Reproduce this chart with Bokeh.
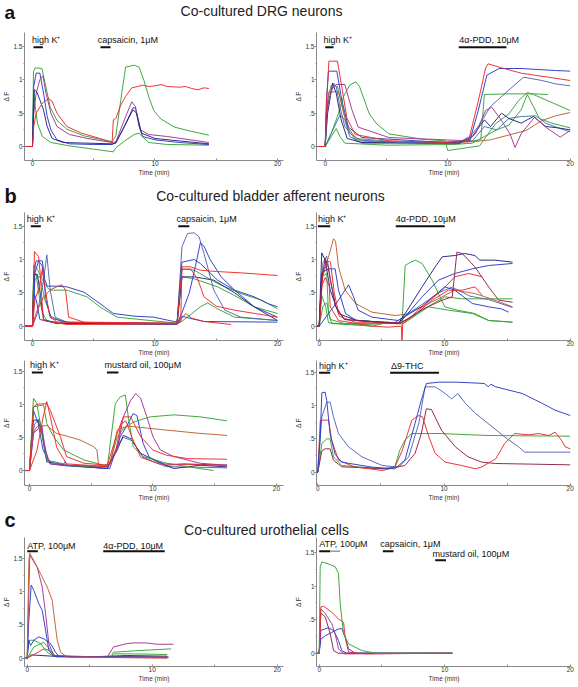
from bokeh.plotting import figure
from bokeh.layouts import column, row
from bokeh.models import FixedTicker, Range1d
from bokeh.core.properties import value
from bokeh.embed import file_html
from bokeh.resources import INLINE

FONT = "Liberation Sans"
COL = {
    "red": "#ee2a2a", "green": "#36a336", "blue": "#2a3cc8", "navy": "#23237e",
    "slate": "#5565b5", "magenta": "#a0358f", "maroon": "#8c2244",
    "brown": "#bd6030", "teal": "#3a78a8",
}

# ---------------- section titles ----------------
section_letters = ["a", "b", "c"]
section_titles = ["Co-cultured DRG neurons", "Co-cultured bladder afferent neurons",
                  "Co-cultured urothelial cells"]

# ---------------- panel a, left (capsaicin) ----------------
a1_stim_labels = ["high K\u207a", "capsaicin, 1\u03bcM"]
a1_stim_start = [0.08, 5.55]
a1_stim_end = [0.85, 6.37]
a1_label_t = [-0.05, 5.33]
a1_green_big = [(-0.8,0),(0,0),(0.08,1.12),(0.22,1.18),(0.77,1.17),(1.04,0.94),(1.45,0.59),(2.0,0.39),(2.8,0.26),(4.2,0.16),(5.5,0.11),(6.5,0.075),(6.8,0.16),(7.2,0.69),(7.6,1.19),(8.3,1.22),(8.7,1.19),(9.1,0.99),(9.5,0.74),(9.9,0.54),(10.5,0.41),(11.6,0.29),(12.9,0.23),(14.4,0.17)]
a1_green_low = [(-0.8,0),(0,0),(0.1,0.78),(0.4,0.35),(0.8,0.15),(1.5,0.06),(3,0.01),(5,-0.04),(6.6,-0.08),(6.8,-0.02),(7.5,0.08),(8.3,0.18),(8.7,0.2),(9.0,0.14),(9.5,0.06),(11,0.03),(14.4,0.02)]
a1_blue = [(-0.8,0),(0,0),(0.1,0.9),(0.3,1.1),(0.6,1.1),(0.9,0.8),(1.2,0.45),(1.5,0.25),(2,0.1),(3,0.04),(5,0.03),(6.5,0.03),(6.8,0.06),(7.5,0.3),(8.2,0.58),(8.4,0.58),(8.7,0.3),(9.0,0.15),(10,0.1),(12,0.06),(14.4,0.03)]
a1_magenta = [(-0.8,0),(0,0),(0.1,0.5),(0.3,0.8),(0.6,1.0),(0.85,1.06),(1.1,0.8),(1.5,0.5),(2,0.3),(3,0.18),(4.5,0.12),(6.5,0.06),(6.8,0.07),(7.5,0.4),(8.1,0.67),(8.4,0.6),(8.8,0.25),(9.5,0.18),(11,0.15),(14.4,0.06)]
a1_navy = [(-0.8,0),(0,0),(0.15,0.85),(0.35,0.82),(0.6,0.7),(0.9,0.55),(1.2,0.3),(1.6,0.12),(2.5,0.06),(6.5,0.04),(6.8,0.05),(7.5,0.3),(8.2,0.55),(8.5,0.5),(8.9,0.2),(10,0.12),(14.4,0.04)]
a1_red = [(-0.8,0),(0,0),(0.1,0.3),(0.3,0.5),(0.8,0.65),(1.3,0.72),(1.6,0.68),(2,0.5),(2.8,0.3),(4,0.2),(5.5,0.12),(6.5,0.06),(6.6,0.4),(6.8,0.42),(7.2,0.62),(7.6,0.75),(8.1,0.88),(8.6,0.9),(9,0.92),(9.5,0.9),(10,0.91),(10.5,0.93),(11,0.9),(12,0.89),(12.5,0.9),(13,0.87),(13.5,0.85),(14,0.88),(14.4,0.87)]
a1_traces = [("green", a1_green_big), ("green", a1_green_low), ("blue", a1_blue),
             ("magenta", a1_magenta), ("navy", a1_navy), ("red", a1_red)]

# ---------------- panel a, right (4a-PDD) ----------------
a2_stim_labels = ["high K\u207a", "4\u03b1-PDD, 10\u03bcM"]
a2_stim_start = [0.0, 10.9]
a2_stim_end = [0.68, 14.8]
a2_label_t = [-0.14, 10.94]
a2_red = [(-0.8,0),(0,0),(0.1,0.6),(0.3,1.28),(1.0,1.28),(1.36,0.89),(1.77,0.43),(2.45,0.18),(5.2,0.085),(9.8,0.06),(11.7,0.085),(12.5,0.68),(13.1,1.18),(13.3,1.24),(14.4,1.18),(16,1.1),(18.2,1.04),(20,0.99)]
a2_blue = [(-0.8,0),(0,0),(0.1,0.7),(0.27,1.13),(0.95,1.13),(1.36,0.69),(1.9,0.29),(3.0,0.135),(9.8,0.06),(11.8,0.085),(12.5,0.54),(13.2,1.07),(14.2,1.17),(16,1.17),(18.8,1.14),(20,1.13)]
a2_slate = [(-0.8,0),(0,0),(0.15,0.6),(0.7,0.95),(0.9,0.9),(1.2,0.6),(1.6,0.3),(2.5,0.1),(6,0.06),(11,0.07),(11.8,0.15),(12.5,0.3),(13.5,0.6),(14.7,0.8),(16.2,1.04),(17.7,0.99),(18.8,0.94),(20,0.91)]
a2_green_flat = [(-0.8,0),(0,0),(0.2,0.7),(0.5,0.92),(1.0,0.9),(1.4,0.6),(1.8,0.3),(2.5,0.12),(6,0.07),(11,0.06),(12.7,0.1),(13.0,0.78),(15,0.79),(17,0.79),(18.2,0.78)]
a2_green_late = [(-0.8,0),(0,0),(0.5,0.2),(1.0,0.45),(1.5,0.75),(2.0,0.92),(2.5,0.97),(2.8,0.9),(3.6,0.49),(4.2,0.34),(5.2,0.19),(7.9,0.11),(9.8,0.085),(10.0,-0.06),(11.7,-0.015),(12.6,0.01),(13.9,0.34),(15,0.49),(15.8,0.69),(16.5,0.81),(17.0,0.78),(18.0,0.7),(19,0.62),(20,0.54)]
a2_green_small = [(-0.8,0),(0,0),(0.5,0.15),(0.9,0.27),(1.2,0.15),(1.6,0.05),(5,0.02),(10.5,0.03),(12,0.05),(13,0.15),(14,0.25),(15,0.32),(16,0.55),(16.5,0.78),(17,0.6),(17.5,0.42),(18.5,0.35),(20,0.28)]
a2_magenta = [(-0.8,0),(0,0),(0.1,0.5),(0.5,0.85),(0.9,0.93),(1.6,0.93),(2.2,0.54),(2.7,0.29),(5.2,0.135),(11.7,0.085),(12.3,0.2),(13.1,0.54),(13.6,0.59),(14.4,0.39),(15.1,0.185),(15.5,-0.015),(16,0.19),(17.1,0.44),(18,0.29),(18.8,0.19),(19.2,0.14),(20,0.24)]
a2_brown = [(-0.8,0),(0,0),(0.1,0.5),(0.3,0.82),(1.1,0.82),(1.5,0.5),(2,0.2),(3,0.08),(8,0.05),(12,0.07),(13.5,0.1),(16.4,0.24),(17.7,0.39),(18.8,0.46),(20,0.51)]
a2_navy = [(-0.8,0),(0,0),(0.2,0.5),(0.6,0.95),(0.9,0.8),(1.3,0.4),(1.8,0.12),(3,0.06),(11,0.05),(12.0,0.15),(13.0,0.4),(13.5,0.3),(14.4,0.5),(15,0.42),(16,0.35),(17,0.45),(18,0.3),(19,0.28),(20,0.25)]
a2_teal = [(-0.8,0),(0,0),(0.5,0.2),(1.2,0.47),(1.6,0.4),(2,0.15),(3,0.05),(11,0.05),(11.5,0.12),(12,0.08),(13,0.3),(14,0.25),(15,0.42),(16,0.45),(17.2,0.46),(18,0.35),(19,0.28),(20,0.22)]
a2_traces = [("green", a2_green_flat), ("green", a2_green_late), ("green", a2_green_small),
             ("brown", a2_brown), ("teal", a2_teal), ("navy", a2_navy), ("slate", a2_slate),
             ("magenta", a2_magenta), ("blue", a2_blue), ("red", a2_red)]

# ---------------- panel b, top left (capsaicin) ----------------
b1_stim_labels = ["high K\u207a", "capsaicin, 1\u03bcM"]
b1_stim_start = [-0.14, 11.9]
b1_stim_end = [0.68, 12.8]
b1_label_t = [-0.46, 11.75]
b1_red_fast = [(-0.8,0),(0,0),(0.16,1.12),(0.5,1.04),(0.63,0.79),(0.8,0.3),(0.9,0.085),(2.8,0.025),(11.8,0.035),(12.1,0.09),(12.5,0.19),(13,0.12),(14,0.07),(16.2,0.025)]
b1_red_slow = [(-0.8,0),(0,0),(0.3,0.2),(0.9,0.44),(1.5,0.55),(2.1,0.6),(2.4,0.62),(2.7,0.54),(2.95,0.135),(4.2,0.06),(11.8,0.045),(12.1,0.06),(12.2,0.89),(12.9,0.89),(13.7,0.84),(15,0.82),(17,0.8),(20,0.76)]
b1_red3 = [(-0.8,0),(0,0),(0.2,0.4),(0.5,0.55),(0.8,0.85),(1.0,0.6),(1.4,0.15),(2,0.06),(11.8,0.04),(12.2,0.85),(12.9,0.86),(13.5,0.7),(14,0.44),(15,0.3),(16.5,0.24),(20,0.135)]
b1_slate_tall = [(-0.8,0),(0,0),(0.4,0.19),(0.9,0.69),(1.17,1.07),(1.45,0.54),(1.85,0.135),(2.8,0.06),(11.8,0.035),(12.2,1.19),(12.65,1.39),(13.2,1.4),(13.6,1.34),(14,1.09),(14.8,0.54),(15.7,0.24),(17,0.135),(20,0.085)]
b1_blue_late = [(-0.8,0),(0,0),(0.2,0.8),(0.5,0.98),(0.8,0.9),(1.1,0.4),(1.5,0.12),(3,0.05),(11.8,0.04),(12.2,0.2),(12.8,0.5),(13.3,0.9),(13.7,1.25),(14,1.2),(14.5,1.0),(15.4,0.74),(16.5,0.54),(18.1,0.29),(20,0.135)]
b1_blue_decay = [(-0.8,0),(0,0),(0.2,0.9),(0.3,0.98),(0.8,0.98),(1.0,0.7),(1.2,0.6),(2,0.6),(2.8,0.59),(4.2,0.51),(5.5,0.34),(6.6,0.19),(8.3,0.15),(9.9,0.135),(11.8,0.06),(12.2,0.96),(13.2,1.0),(13.7,0.94),(15.1,0.69),(16.5,0.54),(18.1,0.44),(19.2,0.34),(20,0.29)]
b1_green_decay = [(-0.8,0),(0,0),(0.1,0.92),(0.4,0.85),(0.8,0.7),(1.2,0.58),(1.45,0.54),(2.8,0.54),(4.45,0.44),(5.5,0.29),(6.9,0.135),(9.6,0.085),(11.8,0.045),(12.2,0.86),(13.2,0.84),(15.1,0.64),(17,0.49),(18.7,0.39),(20,0.26)]
b1_green_small = [(-0.8,0),(0,0),(0.1,0.8),(0.3,0.78),(0.5,0.5),(0.8,0.2),(1.2,0.08),(3,0.04),(11.8,0.03),(12.4,0.1),(13.7,0.29),(14.3,0.35),(15.1,0.26),(16.5,0.135),(20,0.085)]
b1_green3 = [(-0.8,0),(0,0),(0.2,0.7),(0.6,0.75),(1.0,0.4),(1.5,0.15),(2.5,0.06),(11.8,0.04),(12.2,0.74),(13.2,0.71),(15.1,0.59),(16.5,0.46),(18.1,0.29),(20,0.19)]
b1_navy = [(-0.8,0),(0,0),(0.1,0.77),(0.4,0.78),(0.7,0.4),(0.9,0.1),(2,0.04),(11.8,0.03),(12.2,0.74),(13.2,0.74),(14.8,0.69),(16.5,0.5),(18,0.3),(20,0.085)]
b1_blue_small = [(-0.8,0),(0,0),(0.15,0.48),(0.3,0.4),(0.6,0.1),(2,0.04),(11.8,0.03),(12.2,0.15),(12.8,0.12),(14,0.07),(20,0.06)]
b1_traces = [("green", b1_green_decay), ("green", b1_green_small), ("green", b1_green3),
             ("navy", b1_navy), ("blue", b1_blue_small), ("slate", b1_slate_tall),
             ("blue", b1_blue_late), ("blue", b1_blue_decay), ("red", b1_red_fast),
             ("red", b1_red_slow), ("red", b1_red3)]

# ---------------- panel b, top right (4a-PDD) ----------------
b2_stim_labels = ["high K\u207a", "4\u03b1-PDD, 10\u03bcM"]
b2_stim_start = [-0.1, 6.1]
b2_stim_end = [0.88, 10.0]
b2_label_t = [-0.1, 6.1]
b2_brown = [(-0.3,0),(0,0),(0.2,0.69),(0.74,1.04),(1.14,1.31),(1.3,1.28),(1.54,0.89),(2.07,0.54),(2.9,0.34),(4.2,0.21),(6.05,0.16),(6.9,0.18),(8.2,0.29),(9.8,0.44),(10.8,0.54),(12.4,0.49),(14.0,0.39),(15.4,0.29)]
b2_green_early = [(-0.3,0),(0,0),(0.2,0.74),(0.6,0.79),(0.74,0.19),(1.0,0.04),(4.2,0.0),(5.5,0.06),(6.6,0.03),(6.85,0.91),(7.1,0.94),(7.65,0.99),(8.2,0.94),(9.0,0.69),(9.5,0.49),(10.0,0.29),(11.0,0.24),(12.4,0.19),(13.5,0.085),(15.4,0.06)]
b2_navy = [(-0.3,0),(0,0),(0.2,1.1),(0.48,0.99),(0.88,0.54),(1.54,0.19),(2.9,0.09),(6.3,0.035),(6.85,0.19),(8.2,0.59),(9.24,0.89),(9.8,1.04),(10.8,1.06),(11.6,1.09),(12.4,1.06),(12.8,0.99),(14,0.99),(15.4,0.96)]
b2_blue = [(-0.3,0),(0,0),(0.2,0.8),(0.74,0.86),(1.27,0.86),(1.54,0.54),(2.1,0.19),(3,0.08),(6.3,0.05),(6.6,0.09),(8.2,0.44),(9.5,0.69),(10.8,0.79),(12.2,0.86),(13.5,0.91),(15.4,0.94)]
b2_maroon = [(-0.3,0),(0,0),(0.2,0.7),(0.48,1.01),(0.7,0.9),(0.9,0.68),(1.3,0.3),(2,0.1),(6.3,0.04),(7,0.1),(8.2,0.25),(9.8,0.39),(10.6,0.44),(10.97,1.11),(11.4,1.09),(12.4,0.89),(13.5,0.59),(14.3,0.39),(15.4,0.36)]
b2_red = [(-0.3,0),(0,0),(0.2,0.6),(0.48,0.73),(0.8,0.6),(0.88,0.29),(1.54,0.085),(4.2,0.0),(5.5,-0.015),(6.55,0.0),(6.6,-0.3),(6.65,0.03),(8.2,0.29),(9.8,0.54),(10.8,0.74),(11.9,0.79),(13,0.74)]
b2_red2 = [(-0.3,0),(0,0),(0.3,0.8),(0.6,0.98),(0.9,0.96),(1.2,0.5),(1.6,0.15),(3,0.05),(6.5,0.05),(7.5,0.15),(9,0.39),(10.3,0.54),(11.4,0.54),(12.4,0.59),(13,0.46)]
b2_purpleblue = [(-0.3,0),(0,0),(0.74,0.19),(1.54,0.39),(2.34,0.62),(2.74,0.44),(3.1,0.24),(4.2,0.135),(6.3,0.085),(8.2,0.3),(10.0,0.59),(10.8,0.54),(12.2,0.34),(13.5,0.29),(14.5,0.26),(15.1,0.21)]
b2_green_flat = [(-0.3,0),(0,0),(0.2,0.46),(0.5,0.3),(0.74,0.05),(3,0.02),(6.5,0.05),(8.2,0.24),(10.0,0.44),(11.4,0.41),(15.4,0.41)]
b2_green_low = [(-0.3,0),(0,0),(0.3,0.3),(0.6,0.35),(0.9,0.1),(2,0.04),(6.8,0.05),(8.7,0.29),(10.3,0.24),(12.2,0.19),(13.5,0.085),(15.4,0.06)]
b2_slate = [(-0.3,0),(0,0),(0.3,0.95),(0.6,1.05),(0.9,0.7),(1.3,0.3),(2,0.1),(6,0.05),(8,0.3),(9.5,0.5),(10.5,0.58),(11,0.55),(12,0.45),(13.5,0.4),(15.4,0.28)]
b2_traces = [("green", b2_green_low), ("green", b2_green_flat), ("green", b2_green_early),
             ("brown", b2_brown), ("slate", b2_slate), ("blue", b2_purpleblue), ("blue", b2_blue),
             ("navy", b2_navy), ("red", b2_red2), ("red", b2_red), ("maroon", b2_maroon)]

# ---------------- panel b, bottom left (mustard oil) ----------------
b3_stim_labels = ["high K\u207a", "mustard oil, 100\u03bcM"]
b3_stim_start = [0.19, 6.27]
b3_stim_end = [1.08, 7.2]
b3_label_t = [0.05, 6.08]
b3_green_sust = [(-0.8,0),(0,0),(0.32,0.96),(1.14,0.99),(1.4,0.71),(1.95,0.51),(2.76,0.31),(4.4,0.16),(6.0,0.08),(6.5,0.1),(7.1,0.51),(7.6,0.63),(8.4,0.73),(9.8,0.81),(11.7,0.84),(13.8,0.81),(16,0.75)]
b3_brown = [(-0.8,0),(0,0),(0.3,0.56),(0.6,0.66),(1.4,0.68),(2.2,0.56),(3.0,0.52),(4.1,0.46),(5.2,0.36),(5.46,0.31),(5.6,0.08),(6.5,0.08),(7.1,0.61),(7.9,0.67),(9.0,0.65),(11.1,0.61),(13.8,0.56),(16,0.53)]
b3_red1 = [(-0.8,0),(0,0),(0.32,0.96),(0.6,1.0),(1.4,1.01),(1.68,0.91),(2.5,0.51),(3.0,0.21),(4.4,0.11),(6.3,0.08),(7.1,0.56),(7.6,0.81),(8.2,0.81),(9.0,0.51),(10.0,0.31),(11.1,0.23),(12.8,0.18),(16,0.17)]
b3_red2 = [(-0.8,0),(0,0),(0.6,0.3),(1.1,0.8),(1.4,1.04),(1.7,0.8),(2.2,0.35),(3,0.1),(6.3,0.06),(7,0.3),(7.4,0.7),(7.8,0.75),(8.3,0.5),(9,0.2),(10.5,0.1),(16,0.08)]
b3_purple = [(-0.8,0),(0,0),(0.32,0.56),(1.0,0.68),(1.27,0.31),(1.68,0.1),(3,0.08),(6.3,0.06),(7.1,0.31),(7.6,0.81),(8.2,1.06),(8.6,1.16),(9.0,1.09),(9.5,0.81),(10.0,0.51),(10.6,0.31),(11.7,0.21),(13.8,0.11),(16,0.08)]
b3_green_big2 = [(-0.8,0),(0,0),(0.32,1.09),(0.6,1.01),(1.0,0.56),(1.4,0.16),(2.5,0.08),(6.3,0.05),(6.95,1.01),(7.35,1.11),(7.76,1.14),(8.0,0.81),(8.4,0.36),(9.2,0.21),(11.1,0.11),(13.8,0.03),(14.9,0.0)]
b3_blue = [(-0.8,0),(0,0),(0.32,0.91),(0.7,0.71),(1.1,0.31),(1.68,0.1),(3,0.07),(6.5,0.03),(7.35,0.51),(7.9,0.68),(8.4,0.86),(8.7,0.83),(9.2,0.41),(9.7,0.2),(11.1,0.08),(12.5,0.1),(16,0.08)]
b3_navy = [(-0.8,0),(0,0),(0.32,0.76),(0.7,0.76),(1.0,0.56),(1.4,0.13),(3,0.08),(6.3,0.03),(7.1,0.31),(7.6,0.53),(8.2,0.48),(9.0,0.26),(10.6,0.11),(11.7,0.03),(13.8,0.08),(16,0.055)]
b3_slate = [(-0.8,0),(0,0),(0.4,0.7),(0.8,0.78),(1.1,0.5),(1.5,0.15),(2.8,0.1),(2.9,0.14),(3,0.08),(6.3,0.03),(7.2,0.4),(7.6,0.5),(8.3,0.45),(9.2,0.2),(11,0.06),(16,0.04)]
b3_traces = [("slate", b3_slate), ("navy", b3_navy), ("blue", b3_blue), ("green", b3_green_big2),
             ("green", b3_green_sust), ("brown", b3_brown), ("magenta", b3_purple),
             ("red", b3_red2), ("red", b3_red1)]

# ---------------- panel b, bottom right (delta9-THC) ----------------
b4_stim_labels = ["high K\u207a", "\u03949-THC"]
b4_stim_start = [0.1, 5.73]
b4_stim_end = [0.98, 9.6]
b4_label_t = [0.1, 5.8]
b4_blue = [(-0.3,0),(0,0),(0.2,0.57),(0.32,1.19),(0.58,1.2),(0.71,1.07),(0.98,0.57),(1.37,0.27),(1.9,0.15),(4.3,0.075),(6.1,0.05),(6.9,0.18),(7.7,0.73),(8.2,1.08),(8.6,1.33),(9.6,1.35),(10.9,1.35),(12.2,1.34),(13.2,1.33),(13.5,1.28),(13.7,1.32),(14.1,1.28),(16.2,1.18),(17.8,1.03),(18.8,0.93),(20,0.85)]
b4_slate = [(-0.3,0),(0,0),(0.32,0.83),(0.71,1.05),(0.98,1.05),(1.24,0.83),(1.64,0.58),(2.43,0.38),(3.5,0.23),(5.1,0.1),(6.4,0.075),(7.2,0.23),(8.0,0.73),(8.5,1.28),(9.3,1.28),(10.1,1.18),(10.6,1.1),(11.1,1.18),(11.7,1.03),(12.5,0.88),(13.5,0.73),(14.8,0.53),(15.9,0.38),(16.4,0.3),(20,0.3)]
b4_red = [(-0.3,0),(0,0),(0.2,0.78),(0.85,0.78),(1.1,0.48),(1.64,0.18),(2.9,0.08),(5.1,0.025),(6.1,0.07),(6.7,0.33),(7.45,0.78),(8.0,0.85),(8.3,0.83),(8.8,0.53),(9.3,0.28),(10.1,0.15),(11.4,0.1),(12.5,0.05),(13.0,0.08),(14.1,0.2),(14.8,0.43),(15.6,0.58),(16.7,0.56),(17.5,0.58),(18.3,0.55),(18.8,0.6),(19.3,0.48),(19.6,0.38),(20,0.35)]
b4_maroon = [(-0.3,0),(0,0),(0.32,0.32),(0.58,0.35),(0.98,0.35),(1.24,0.18),(1.9,0.08),(5.5,0.05),(6.9,0.1),(7.7,0.28),(8.2,0.58),(8.6,0.95),(9.0,0.94),(9.8,0.63),(10.9,0.38),(11.9,0.23),(13.0,0.15),(14.1,0.13),(20,0.11)]
b4_green = [(-0.3,0),(0,0),(0.32,0.43),(0.71,0.5),(0.98,0.5),(1.24,0.23),(1.9,0.1),(5.1,0.05),(6.1,0.08),(6.5,0.33),(6.9,0.48),(7.45,0.58),(9.6,0.58),(13.5,0.55),(20,0.54)]
b4_traces = [("green", b4_green), ("maroon", b4_maroon), ("red", b4_red),
             ("slate", b4_slate), ("blue", b4_blue)]

# ---------------- panel c, left (ATP, 4a-PDD) ----------------
c1_stim_labels = ["ATP, 100\u03bcM", "4\u03b1-PDD, 10\u03bcM"]
c1_stim_start = [0.0, 6.08]
c1_stim_end = [0.85, 11.0]
c1_label_t = [0.0, 6.08]
c1_brown = [(-0.2,0),(0,0),(0.13,1.47),(0.21,1.58),(0.53,1.47),(1.07,1.27),(1.6,1.07),(2.0,0.87),(2.13,0.67),(2.4,0.27),(2.67,0.09),(3.2,0.015),(11.2,0.015)]
c1_magenta = [(-0.2,0),(0,0),(0.21,1.55),(0.8,1.37),(1.2,1.07),(1.47,0.67),(1.73,0.22),(2.13,0.04),(6.4,0.015),(6.9,0.17),(8.0,0.22),(8.5,0.23),(9.5,0.23),(10.4,0.21),(11.7,0.21)]
c1_blue = [(-0.2,0),(0,0),(0.13,0.57),(0.32,1.1),(0.53,1.02),(0.93,0.82),(1.2,0.72),(1.47,0.42),(1.73,0.12),(2.13,0.025),(8,0.02),(11.3,0.015)]
c1_blue2 = [(-0.2,0),(0,0),(0.13,0.27),(0.27,0.19),(0.53,0.27),(0.93,0.32),(1.33,0.29),(1.87,0.22),(2.27,0.09),(2.53,0.025),(8,0.025),(11.3,0.015)]
c1_green = [(-0.2,0),(0,0),(0.13,0.27),(0.53,0.27),(1.07,0.22),(1.6,0.09),(2.13,0.025),(6.7,0.015),(6.9,0.09),(8.5,0.11),(11.5,0.14)]
c1_green2 = [(-0.2,0),(0,0),(0.53,0.17),(1.33,0.24),(1.87,0.12),(2.3,0.02),(6.7,0.015),(7.0,0.065),(8.5,0.065),(11.2,0.055)]
c1_red = [(-0.2,0),(0,0),(0.4,0.04),(1.33,0.14),(1.73,0.12),(2.13,0.04),(4.5,0.015),(11.2,0.0)]
c1_navy = [(-0.2,0),(0,0),(0.3,0.05),(2,0.03),(5,0.02),(8,0.04),(11.2,0.03)]
c1_traces = [("navy", c1_navy), ("red", c1_red), ("green", c1_green2), ("green", c1_green),
             ("blue", c1_blue2), ("blue", c1_blue), ("magenta", c1_magenta), ("brown", c1_brown)]

# ---------------- panel c, right (ATP, capsaicin, mustard oil) ----------------
c2_stim_labels = ["ATP, 100\u03bcM", "capsaicin, 1\u03bcM", "mustard oil, 100\u03bcM"]
c2_stim_start = [0.0, 5.07, 9.24]
c2_stim_end = [0.88, 5.92, 10.1]
c2_label_t = [0.0, 4.86, 9.03]
c2_atp_tail = [0.88, 1.67]
c2_green = [(-0.3,0),(0,0),(0.08,1.29),(0.21,1.36),(0.74,1.33),(1.27,1.29),(1.54,1.19),(1.67,0.74),(1.94,0.29),(2.34,0.14),(3.4,0.04),(4.5,0.0),(10.6,0.0)]
c2_red = [(-0.3,0),(0,0),(0.13,0.69),(0.35,0.7),(1.0,0.61),(1.54,0.51),(1.94,0.46),(2.07,0.24),(2.34,0.015),(3.7,-0.01),(10.6,0.0)]
c2_magenta = [(-0.3,0),(0,0),(0.13,0.66),(0.48,0.59),(1.0,0.44),(1.27,0.29),(1.54,0.065),(1.94,-0.01),(10.6,0.0)]
c2_blue1 = [(-0.3,0),(0,0),(0.13,0.21),(0.48,0.26),(1.0,0.31),(1.54,0.36),(1.8,0.37),(2.07,0.24),(2.34,0.065),(2.87,0.0),(10.6,0.0)]
c2_blue2 = [(-0.3,0),(0,0),(0.13,0.34),(0.74,0.38),(1.14,0.34),(1.54,0.19),(1.8,0.04),(2.2,0.0),(10.6,0.0)]
c2_maroon = [(-0.3,0),(0,0),(0.13,0.6),(0.48,0.54),(0.88,0.29),(1.14,0.04),(1.5,0.0),(10.6,0.0)]
c2_traces = [("blue", c2_blue1), ("blue", c2_blue2), ("maroon", c2_maroon),
             ("magenta", c2_magenta), ("red", c2_red), ("green", c2_green)]

X_TICKS = [0, 5, 10, 15, 20]
Y_TICKS = [0, 0.5, 1, 1.5]
Y_TICK_LABELS = ["0", ".5", "1", "1.5"]

PAGE_W = 578
LBL_LIFT = 0.045   # text glyphs sit a little below their anchor; lift stimulus labels


def header(height, letter, title, letter_base, title_base, title_x, letter_size):
    h = figure(width=PAGE_W, height=height, x_range=Range1d(0, PAGE_W), y_range=Range1d(0, height),
               output_backend="svg", toolbar_location=None, x_axis_type=None, y_axis_type=None,
               min_border=0, min_border_left=0, min_border_right=0, min_border_top=0,
               min_border_bottom=0)
    h.grid.visible = False
    h.outline_line_color = None
    h.text(x=[4], y=[letter_base], text=[letter], text_font=value(FONT),
           text_font_size=value(letter_size), text_font_style="bold", text_color="#111111",
           text_baseline="alphabetic", text_align="left")
    h.text(x=[title_x], y=[title_base], text=[title], text_font=value(FONT),
           text_font_size=value("14px"), text_color="#222222",
           text_baseline="alphabetic", text_align="center")
    return h


def panel(side, height, top, bottom, xr, yr, traces, labels, starts, ends, label_t,
          label_y, bar_y):
    if side == "left":
        w, bl, br = 292, 24, 9
    else:
        w, bl, br = PAGE_W - 292, 24, 7
    p = figure(width=w, height=height, x_range=Range1d(*xr), y_range=Range1d(*yr),
               output_backend="svg", toolbar_location=None,
               min_border_left=bl, min_border_right=br, min_border_top=top,
               min_border_bottom=bottom)
    p.grid.visible = False
    p.outline_line_color = None
    for cname, pts in traces:
        p.line([q[0] for q in pts], [q[1] for q in pts], line_color=COL[cname],
               line_width=1, line_alpha=0.95)
    n = len(labels)
    ly = label_y if isinstance(label_y, list) else [label_y] * n
    by = bar_y if isinstance(bar_y, list) else [bar_y] * n
    p.segment(x0=starts, y0=by, x1=ends, y1=by, line_color="#111111", line_width=2)
    p.text(x=label_t, y=[v + LBL_LIFT for v in ly], text=labels, text_font=value(FONT),
           text_font_size=value("9px"), text_color="#111111", text_baseline="alphabetic",
           text_align="left")
    for ax in (p.xaxis, p.yaxis):
        ax.axis_line_color = "#8a8a8a"
        ax.major_tick_line_color = "#8a8a8a"
        ax.minor_tick_line_color = "#8a8a8a"
        ax.major_label_text_font = FONT
        ax.major_label_text_font_size = "6.5px"
        ax.major_label_text_color = "#333333"
        ax.axis_label_text_font = FONT
        ax.axis_label_text_font_size = "6.5px"
        ax.axis_label_text_font_style = "normal"
        ax.axis_label_text_color = "#333333"
        ax.major_label_standoff = 0
        ax.axis_label_standoff = 0
    p.xaxis.ticker = FixedTicker(ticks=X_TICKS)
    p.xaxis.major_label_overrides = {5: "", 15: ""}
    p.xaxis.major_tick_in = 2
    p.xaxis.major_tick_out = 0
    p.xaxis.minor_tick_out = 0
    p.xaxis.axis_label = "Time (min)"
    p.yaxis.ticker = FixedTicker(ticks=Y_TICKS, minor_ticks=[-0.25, 0.25, 0.75, 1.25])
    p.yaxis.major_label_overrides = dict(zip(Y_TICKS, Y_TICK_LABELS))
    p.yaxis.major_tick_out = 2
    p.yaxis.major_tick_in = 0
    p.yaxis.minor_tick_out = 1
    p.yaxis.minor_tick_in = 0
    p.yaxis.axis_label = "\u0394 F"
    return p


hA = header(22, section_letters[0], section_titles[0], 10, 12, 261, "19px")
pa1 = panel("left", 158, 10, 20, (-0.653, 20.49), (-0.21, 1.71), a1_traces, a1_stim_labels,
            a1_stim_start, a1_stim_end, a1_label_t, 1.55, 1.49)
pa2 = panel("right", 158, 10, 20, (-0.71, 20.11), (-0.21, 1.71), a2_traces, a2_stim_labels,
            a2_stim_start, a2_stim_end, a2_label_t, 1.55, 1.49)

hB = header(28, section_letters[1], section_titles[1], 13, 13, 270, "20px")
pb1 = panel("left", 152, 4, 20, (-0.653, 20.49), (-0.215, 1.705), b1_traces, b1_stim_labels,
            b1_stim_start, b1_stim_end, b1_label_t, 1.56, 1.5)
pb2 = panel("right", 152, 4, 20, (-0.215, 20.1), (-0.215, 1.705), b2_traces, b2_stim_labels,
            b2_stim_start, b2_stim_end, b2_label_t, 1.56, 1.5)
pb3 = panel("left", 145, 0, 20, (-0.405, 20.57), (-0.226, 1.66), b3_traces, b3_stim_labels,
            b3_stim_start, b3_stim_end, b3_label_t, 1.54, 1.48)
pb4 = panel("right", 145, 0, 20, (-0.103, 20.1), (-0.2, 1.675), b4_traces, b4_stim_labels,
            b4_stim_start, b4_stim_end, b4_label_t, 1.55, 1.49)

hC = header(32, section_letters[2], section_titles[2], 18, 8, 266, "20px")
pc1 = panel("left", 150, 0, 21, (-0.216, 20.5), (-0.125, 1.816), c1_traces, c1_stim_labels,
            c1_stim_start, c1_stim_end, c1_label_t, 1.65, 1.61)
pc2 = panel("right", 150, 0, 21, (-0.215, 20.1), (-0.198, 1.724), c2_traces, c2_stim_labels,
            c2_stim_start, c2_stim_end, c2_label_t, [1.575, 1.575, 1.435], [1.52, 1.52, 1.385])
pc2.segment(x0=[c2_atp_tail[0]], y0=[1.52], x1=[c2_atp_tail[1]], y1=[1.52],
            line_color="#9a9a9a", line_width=1.5)

layout = column(hA, row(pa1, pa2), hB, row(pb1, pb2), row(pb3, pb4), hC, row(pc1, pc2))
open("out.html", "w").write(file_html(layout, INLINE))
